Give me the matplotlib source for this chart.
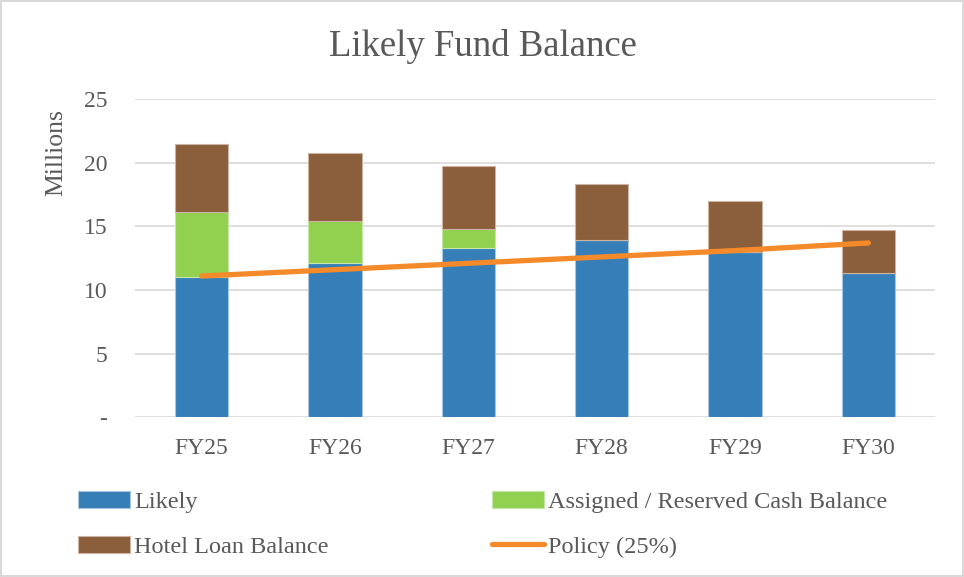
import matplotlib.pyplot as plt

years = ["FY25", "FY26", "FY27", "FY28", "FY29", "FY30"]
likely = [11.05, 12.15, 13.33, 13.9, 13.0, 11.3]
assigned = [5.1, 3.28, 1.5, 0, 0, 0]
hotel = [5.35, 5.37, 4.93, 4.4, 4.03, 3.42]
policy = [11.1, 11.6, 12.1, 12.6, 13.1, 13.7]
yticks = [0, 5, 10, 15, 20, 25]
yticklabels = ["-", "5", "10", "15", "20", "25"]

plt.rcParams['font.family'] = ['Liberation Serif', 'DejaVu Serif']
txt = '#595959'

fig = plt.figure(figsize=(9.64, 5.77), dpi=100)
fig.patch.set_edgecolor('#d9d9d9')
fig.patch.set_linewidth(1.5)
ax = fig.add_axes([0.140, 0.277, 0.830, 0.551])

x = list(range(len(years)))
w = 0.4
bottom2 = [a + b for a, b in zip(likely, assigned)]
b1 = ax.bar(x, likely, w, color='#357eb8', edgecolor='#a9c6e0', linewidth=0.8, zorder=2, label='Likely')
b2 = ax.bar(x, assigned, w, bottom=likely, color='#92d050', edgecolor='#c5e6a6', linewidth=0.8, zorder=2,
            label='Assigned / Reserved Cash Balance')
b3 = ax.bar(x, hotel, w, bottom=bottom2, color='#8b5e3c', edgecolor='#cdb4a2', linewidth=0.8, zorder=2,
            label='Hotel Loan Balance')
l1, = ax.plot(x, policy, color='#f58a2a', linewidth=3.8, solid_capstyle='round', zorder=3, label='Policy (25%)')

ax.set_xlim(-0.5, 5.5)
ax.set_ylim(0, 25)
ax.set_yticks(yticks)
ax.set_yticklabels(yticklabels, fontsize=17, color=txt)
ax.set_xticks(x)
ax.set_xticklabels(years, fontsize=17, color=txt)
ax.tick_params(axis='y', length=0, pad=20)
ax.tick_params(axis='x', length=0, pad=15)
ax.grid(axis='y', color='#d9d9d9', linewidth=1.2, zorder=0)
ax.set_axisbelow(True)
for s in ax.spines.values():
    s.set_visible(False)

fig.text(0.501, 0.920, 'Likely Fund Balance', ha='center', va='center', fontsize=26.5, color=txt)
fig.text(0.058, 0.736, 'Millions', ha='center', va='center', rotation=90, fontsize=18.5, color=txt)

leg_kw = dict(loc='upper left', frameon=False, fontsize=17.5, handlelength=2.15, handletextpad=0.16,
              labelspacing=0.93, borderpad=0, borderaxespad=0, labelcolor=txt)
fig.legend([b1, b3], ['Likely', 'Hotel Loan Balance'], bbox_to_anchor=(0.081, 0.149), **leg_kw)
fig.legend([b2, l1], ['Assigned / Reserved Cash Balance', 'Policy (25%)'], bbox_to_anchor=(0.510, 0.149), **leg_kw)

plt.savefig('out.png', dpi=100)
